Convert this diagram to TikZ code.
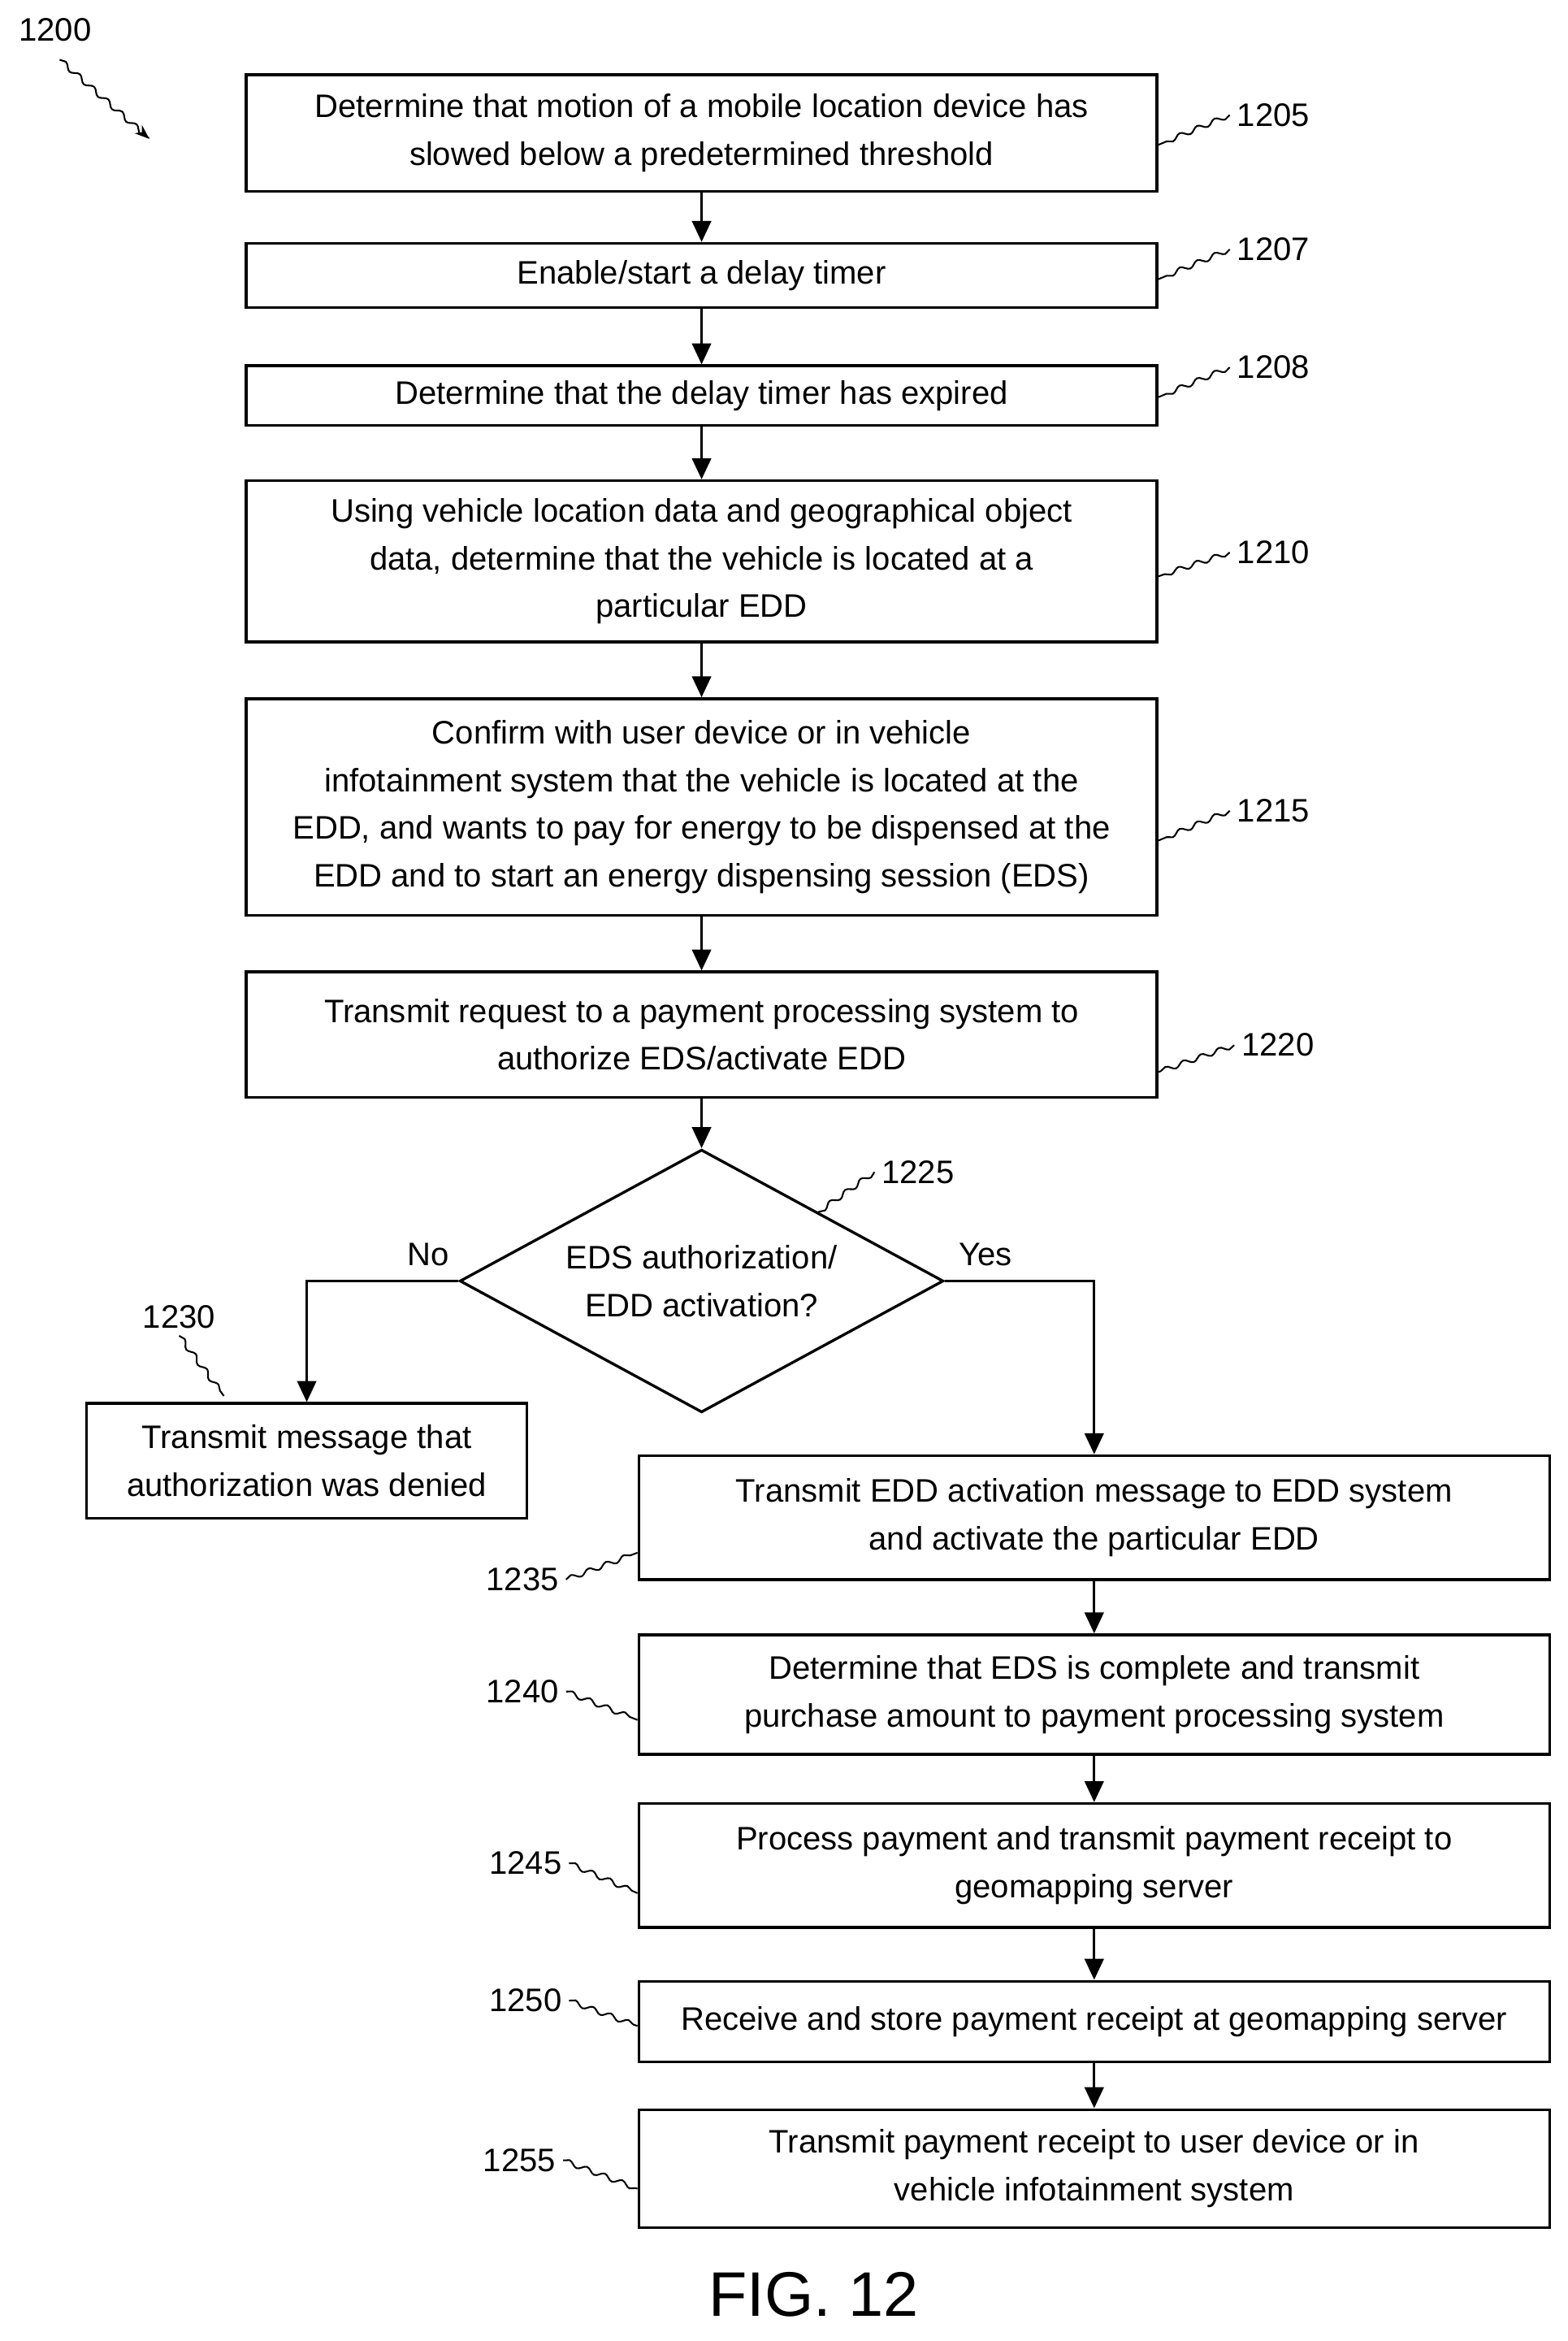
\documentclass[tikz,border=0pt]{standalone}
\usepackage{fontspec}
\setmainfont{Liberation Sans}
\usetikzlibrary{shapes.geometric,decorations.pathmorphing,arrows.meta}

\begin{document}
\begin{tikzpicture}[x=0.025cm,y=-0.025cm,
    step_box/.style={draw,line width=1.3pt,align=center,minimum width=15.25cm,inner sep=2pt,font=\fontsize{15.5}{22.7}\selectfont},
    deny_box/.style={step_box,minimum width=7.375cm},
    ref_lbl/.style={font=\fontsize{15.5}{18}\selectfont},
    lead/.style={line width=0.8pt,decorate,decoration={snake,amplitude=1.2pt,segment length=9pt}},
    flow/.style={line width=1.3pt,-{Triangle[length=10pt,width=9pt]}}]

    \useasboundingbox (0,0) rectangle (1050,1568);

    \node[step_box,minimum height=1.95cm] (s1205) at (470,89) {Determine that motion of a mobile location device has\\slowed below a predetermined threshold};
    \node[step_box,minimum height=1.075cm] (s1207) at (470,184.5) {Enable/start a delay timer};
    \node[step_box,minimum height=1cm] (s1208) at (470,265) {Determine that the delay timer has expired};
    \node[step_box,minimum height=2.7cm] (s1210) at (470,376) {Using vehicle location data and geographical object\\data, determine that the vehicle is located at a\\particular EDD};
    \node[step_box,minimum height=3.625cm] (s1215) at (470,540.5) {Confirm with user device or in vehicle\\infotainment system that the vehicle is located at the\\EDD, and wants to pay for energy to be dispensed at the\\EDD and to start an energy dispensing session (EDS)};
    \node[step_box,minimum height=2.1cm] (s1220) at (470,693) {Transmit request to a payment processing system to\\authorize EDS/activate EDD};
    \node[diamond,draw,line width=1.3pt,aspect=1.85,minimum width=8.1cm,minimum height=4.4cm,inner sep=-4pt,align=center,font=\fontsize{15.5}{22.7}\selectfont] (d1225) at (470,858) {EDS authorization/\\EDD activation?};
    \node[deny_box,minimum height=1.925cm] (s1230) at (205.5,978.5) {Transmit message that\\authorization was denied};
    \node[step_box,minimum height=2.075cm] (s1235) at (733,1016.5) {Transmit EDD activation message to EDD system\\and activate the particular EDD};
    \node[step_box,minimum height=2cm] (s1240) at (733,1135) {Determine that EDS is complete and transmit\\purchase amount to payment processing system};
    \node[step_box,minimum height=2.075cm] (s1245) at (733,1249.5) {Process payment and transmit payment receipt to\\geomapping server};
    \node[step_box,minimum height=1.35cm] (s1250) at (733,1354) {Receive and store payment receipt at geomapping server};
    \node[step_box,minimum height=1.975cm] (s1255) at (733,1452.5) {Transmit payment receipt to user device or in\\vehicle infotainment system};

    \draw[flow] (s1205) -- (s1207);
    \draw[flow] (s1207) -- (s1208);
    \draw[flow] (s1208) -- (s1210);
    \draw[flow] (s1210) -- (s1215);
    \draw[flow] (s1215) -- (s1220);
    \draw[flow] (s1220) -- (d1225);
    \draw[flow] (d1225.west) -| (s1230.north);
    \draw[flow] (d1225.east) -| (s1235.north);
    \draw[flow] (s1235) -- (s1240);
    \draw[flow] (s1240) -- (s1245);
    \draw[flow] (s1245) -- (s1250);
    \draw[flow] (s1250) -- (s1255);

    \node[ref_lbl] (no) at (287,840) {No};
    \node[ref_lbl] (yes) at (660,840) {Yes};

    % reference numerals
    \node[ref_lbl] (n1200) at (37,20) {1200};
    \node[ref_lbl] (n1205) at (853,77) {1205};
    \node[ref_lbl] (n1207) at (853,167) {1207};
    \node[ref_lbl] (n1208) at (853,246) {1208};
    \node[ref_lbl] (n1210) at (853,370) {1210};
    \node[ref_lbl] (n1215) at (853,543) {1215};
    \node[ref_lbl] (n1220) at (856,700) {1220};
    \node[ref_lbl] (n1225) at (615,785) {1225};
    \node[ref_lbl] (n1230) at (120,882) {1230};
    \node[ref_lbl] (n1235) at (350,1058) {1235};
    \node[ref_lbl] (n1240) at (350,1133) {1240};
    \node[ref_lbl] (n1245) at (352,1248) {1245};
    \node[ref_lbl] (n1250) at (352,1340) {1250};
    \node[ref_lbl] (n1255) at (348,1447) {1255};
    \node[font=\fontsize{30}{34}\selectfont] (fig) at (545,1537) {FIG. 12};

    \coordinate (c1200) at (100,93);
    \draw[lead,-{Stealth[length=7pt]}] (40,40) -- (c1200);
    \draw[lead] (n1205.west) -- (s1205.east |- 0,97);
    \draw[lead] (n1207.west) -- (s1207.east |- 0,187);
    \draw[lead] (n1208.west) -- (s1208.east |- 0,266);
    \draw[lead] (n1210.west) -- (s1210.east |- 0,386);
    \draw[lead] (n1215.west) -- (s1215.east |- 0,563);
    \draw[lead] (n1220.west) -- (s1220.east |- 0,718);
    \draw[lead] (n1225.west) -- (548,812);
    \draw[lead] (n1230.south) -- (150,935);
    \draw[lead] (n1235.east) -- (s1235.west |- 0,1040);
    \draw[lead] (n1240.east) -- (s1240.west |- 0,1152);
    \draw[lead] (n1245.east) -- (s1245.west |- 0,1268);
    \draw[lead] (n1250.east) -- (s1250.west |- 0,1357);
    \draw[lead] (n1255.east) -- (s1255.west |- 0,1466);
\end{tikzpicture}
\end{document}
